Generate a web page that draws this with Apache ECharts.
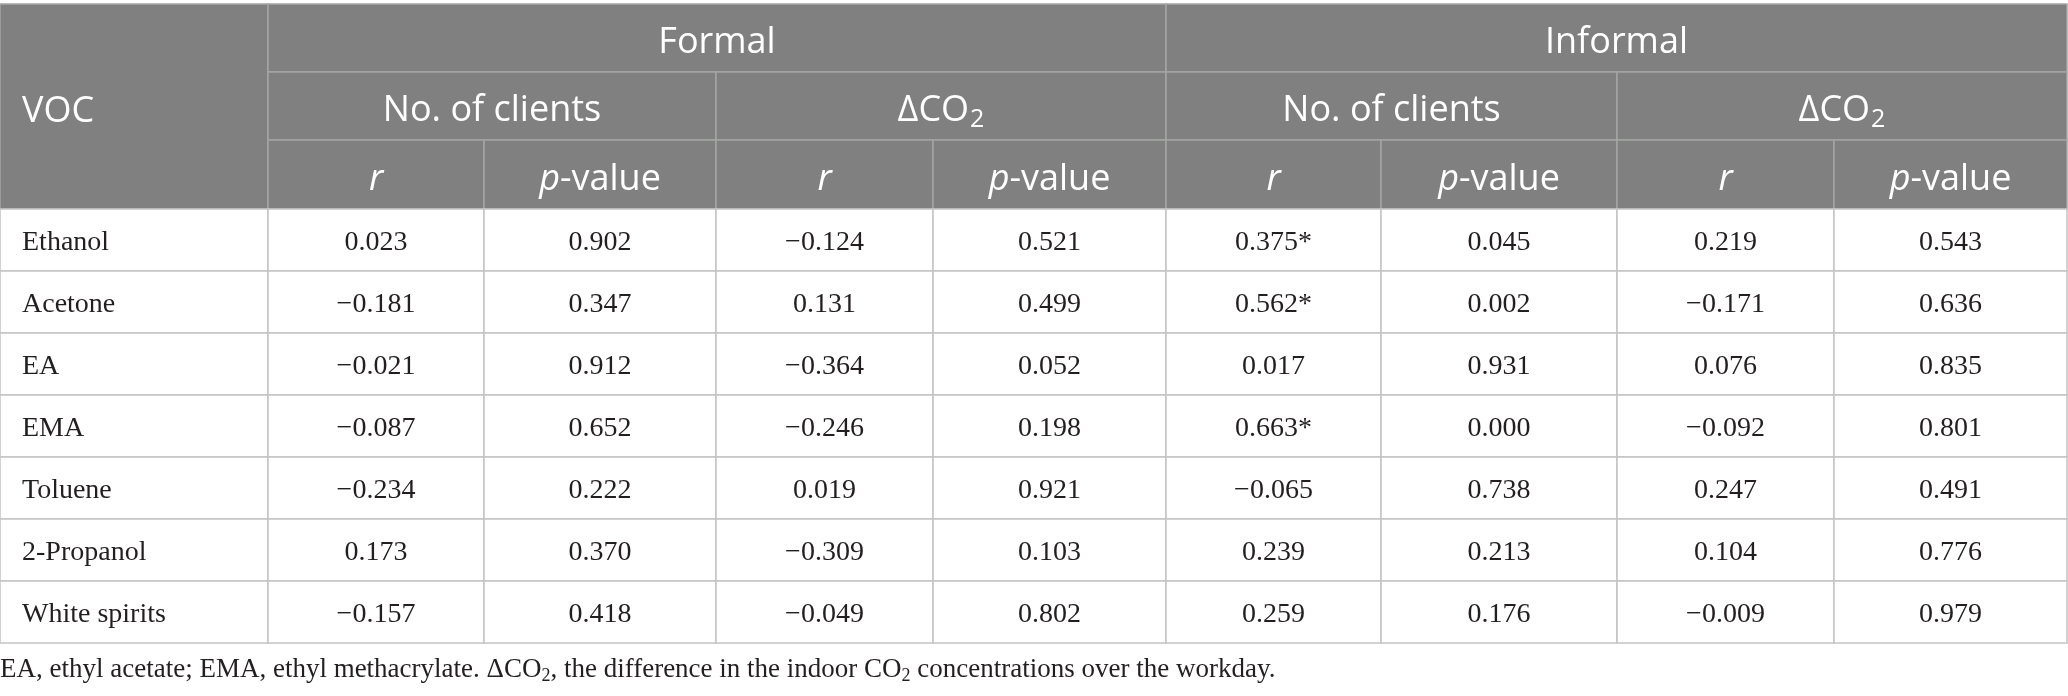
<!DOCTYPE html>
<html>
<head>
<meta charset="utf-8">
<script src="https://cdn.jsdelivr.net/npm/echarts@6/dist/echarts.min.js"></script>
<style>
  html, body { margin: 0; padding: 0; background: #fff; }
  #chart { width: 2068px; height: 696px; }
</style>
</head>
<body>
<div id="chart"></div>
<script>
// table values
var vocs = ['Ethanol', 'Acetone', 'EA', 'EMA', 'Toluene', '2-Propanol', 'White spirits'];
var formalClientsR = [0.023, -0.181, -0.021, -0.087, -0.234, 0.173, -0.157];
var formalClientsP = [0.902, 0.347, 0.912, 0.652, 0.222, 0.370, 0.418];
var formalCo2R = [-0.124, 0.131, -0.364, -0.246, 0.019, -0.309, -0.049];
var formalCo2P = [0.521, 0.499, 0.052, 0.198, 0.921, 0.103, 0.802];
var informalClientsR = [0.375, 0.562, 0.017, 0.663, -0.065, 0.239, 0.259];
var informalClientsSig = [true, true, false, true, false, false, false];
var informalClientsP = [0.045, 0.002, 0.931, 0.000, 0.738, 0.213, 0.176];
var informalCo2R = [0.219, -0.171, 0.076, -0.092, 0.247, 0.104, -0.009];
var informalCo2P = [0.543, 0.636, 0.835, 0.801, 0.491, 0.776, 0.979];

var groupLabels = ['Formal', 'Informal'];
var predictorLabels = ['{n|No. of clients}', '{n|\u0394CO}{s|2}'];
var statLabels = ['{i|r}', '{i|p}{n|-value}'];
var footnote = '{n|EA, ethyl acetate; EMA, ethyl methacrylate. \u0394CO}{s|2}{n|, the difference in the indoor CO}{s|2}{n| concentrations over the workday.}';

// layout
var colWidths = [268, 216, 232, 217, 233, 215, 236, 217, 233];
var headRowHeights = [68, 68, 69];
var bodyRowHeight = 62;
var tableTop = 4;

var SANS = '"Open Sans", sans-serif';
var SERIF = '"Liberation Serif", serif';

function fmt(v) {
    return (v < 0 ? '\u2212' : '') + Math.abs(v).toFixed(3);
}

var colEdges = [0];
colWidths.forEach(function (w) { colEdges.push(colEdges[colEdges.length - 1] + w); });
var rowEdges = [tableTop];
headRowHeights.forEach(function (h) { rowEdges.push(rowEdges[rowEdges.length - 1] + h); });
vocs.forEach(function () { rowEdges.push(rowEdges[rowEdges.length - 1] + bodyRowHeight); });

// cells: column span, row span, text
var cells = [];
cells.push({ c0: 0, c1: 1, r0: 0, r1: 3, text: '{n|VOC}', head: true, align: 'left' });
groupLabels.forEach(function (g, gi) {
    cells.push({ c0: 1 + gi * 4, c1: 5 + gi * 4, r0: 0, r1: 1, text: '{n|' + g + '}', head: true });
    predictorLabels.forEach(function (p, pi) {
        var c = 1 + gi * 4 + pi * 2;
        cells.push({ c0: c, c1: c + 2, r0: 1, r1: 2, text: p, head: true });
        statLabels.forEach(function (s, si) {
            cells.push({ c0: c + si, c1: c + si + 1, r0: 2, r1: 3, text: s, head: true });
        });
    });
});
var bodyCols = [formalClientsR, formalClientsP, formalCo2R, formalCo2P,
                informalClientsR, informalClientsP, informalCo2R, informalCo2P];
vocs.forEach(function (v, ri) {
    cells.push({ c0: 0, c1: 1, r0: 3 + ri, r1: 4 + ri, text: v, align: 'left' });
    bodyCols.forEach(function (arr, ci) {
        var t = fmt(arr[ri]);
        if (arr === informalClientsR && informalClientsSig[ri]) t += '*';
        cells.push({ c0: 1 + ci, c1: 2 + ci, r0: 3 + ri, r1: 4 + ri, text: t });
    });
});

var headRich = {
    n: { fontFamily: SANS, fontSize: 36, fill: '#fff', lineHeight: 44, verticalAlign: 'middle' },
    i: { fontFamily: SANS, fontSize: 36, fontStyle: 'italic', fill: '#fff', lineHeight: 44, verticalAlign: 'middle' },
    s: { fontFamily: SANS, fontSize: 25, fill: '#fff', lineHeight: 25, padding: [18, 0, 0, 1], verticalAlign: 'top' }
};

function renderItem(params, api) {
    var cell = cells[params.dataIndex];
    var p0 = api.coord([api.value(0), api.value(2)]);
    var p1 = api.coord([api.value(1), api.value(3)]);
    var w = p1[0] - p0[0], h = p1[1] - p0[1];
    var left = cell.align === 'left';
    var textStyle = {
        text: cell.text,
        x: left ? p0[0] + 22 : p0[0] + w / 2,
        y: p0[1] + h / 2 + (cell.head ? 5 : 3),
        align: left ? 'left' : 'center',
        verticalAlign: 'middle'
    };
    if (cell.head) {
        textStyle.rich = headRich;
        textStyle.fill = '#fff';
        textStyle.fontFamily = SANS;
        textStyle.fontSize = 36;
    } else {
        textStyle.fill = '#231f20';
        textStyle.fontFamily = SERIF;
        textStyle.fontSize = 28;
    }
    return {
        type: 'group',
        children: [
            {
                type: 'rect',
                shape: { x: p0[0], y: p0[1], width: w, height: h },
                style: {
                    fill: cell.head ? '#7f807f' : '#fff',
                    stroke: cell.head ? '#a4a5a4' : '#c4c4c4',
                    lineWidth: 1.5
                }
            },
            { type: 'text', style: textStyle }
        ]
    };
}

var chart = echarts.init(document.getElementById('chart'));
chart.setOption({
    animation: false,
    backgroundColor: '#fff',
    title: {
        text: footnote,
        left: 0,
        top: 655,
        padding: 0,
        textStyle: {
            fontFamily: SERIF,
            fontSize: 27,
            fontWeight: 'normal',
            color: '#231f20',
            lineHeight: 30,
            rich: {
                n: { fontFamily: SERIF, fontSize: 27, color: '#231f20', lineHeight: 30, verticalAlign: 'middle' },
                s: { fontFamily: SERIF, fontSize: 18, color: '#231f20', lineHeight: 18, padding: [12, 0, 0, 0], verticalAlign: 'top' }
            }
        }
    },
    grid: { left: 0, right: 0, top: 0, bottom: 0 },
    xAxis: { type: 'value', min: 0, max: 2068, show: false },
    yAxis: { type: 'value', min: 0, max: 696, inverse: true, show: false },
    series: [{
        type: 'custom',
        clip: false,
        renderItem: renderItem,
        data: cells.map(function (c) {
            return [colEdges[c.c0], colEdges[c.c1], rowEdges[c.r0], rowEdges[c.r1]];
        })
    }]
});
</script>
</body>
</html>
